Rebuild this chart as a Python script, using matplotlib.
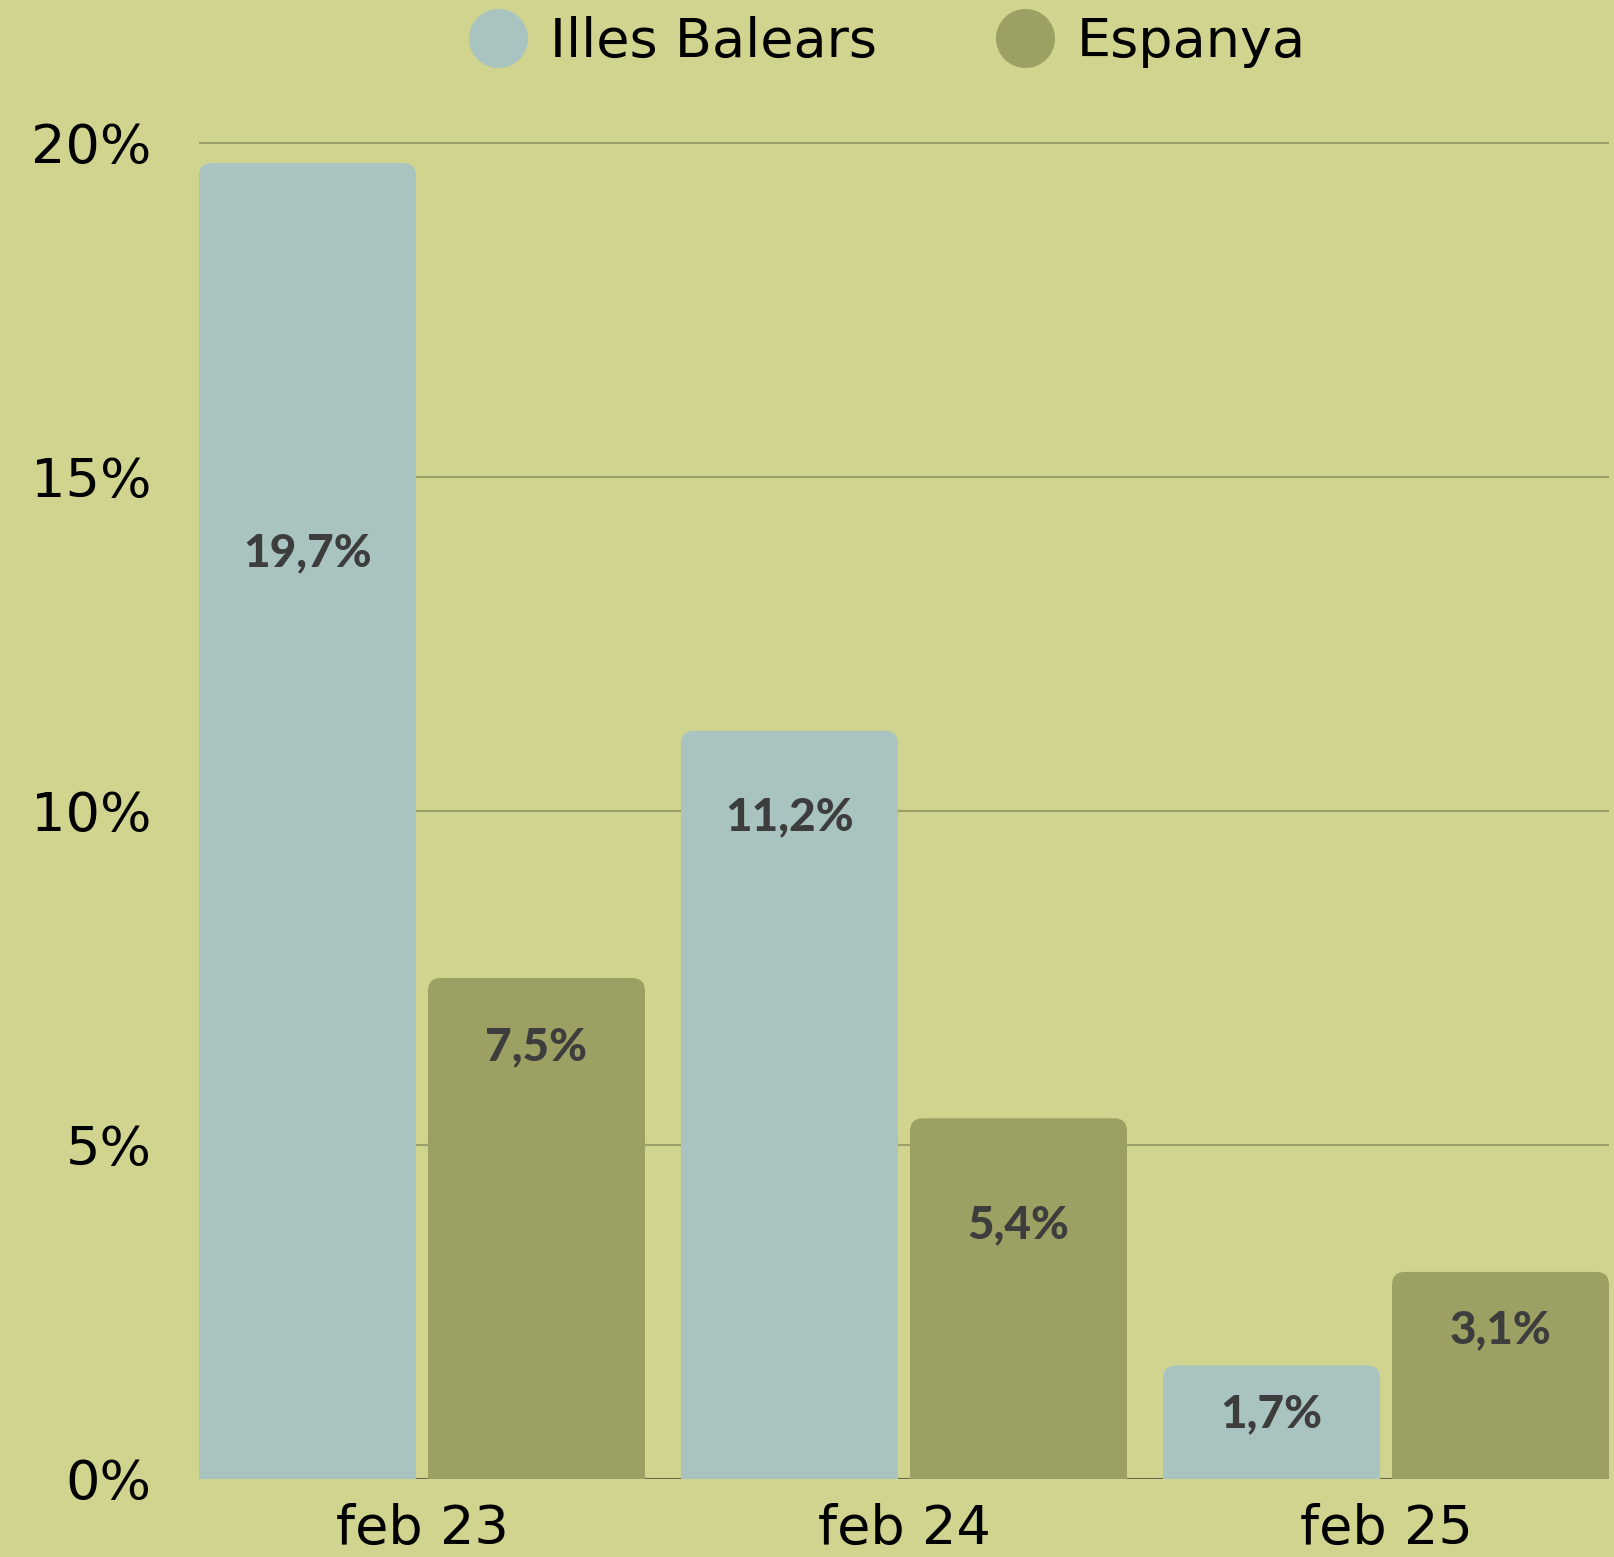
import numpy as np
import matplotlib.pyplot as plt
from matplotlib.patches import FancyBboxPatch
from matplotlib.lines import Line2D

# dades
mesos = ['feb 23', 'feb 24', 'feb 25']
balears = [19.7, 11.2, 1.7]
espanya = [7.5, 5.4, 3.1]
etiq_balears = ['19,7%', '11,2%', '1,7%']
etiq_espanya = ['7,5%', '5,4%', '3,1%']
yticks = [0, 5, 10, 15, 20]
ytick_labels = ['0%', '5%', '10%', '15%', '20%']

# distancia (en punts) de l'etiqueta respecte del cim de la barra
baix_balears = [281, 62, 35]
baix_espanya = [50, 77, 42]

fons = '#d1d48e'
c_bal = '#a9c4c0'
c_esp = '#9ca062'
c_text = '#3d3d3d'

fig = plt.figure(figsize=(16.14, 15.57), dpi=100, facecolor=fons)
ax = fig.add_axes([0.1233, 0.0501, 0.8736, 0.9010], facecolor=fons)

x = np.arange(len(mesos))
w = 0.45
gap = 0.025
b1 = ax.bar(x - (w + gap) / 2, balears, w, color=c_bal, zorder=3)
b2 = ax.bar(x + (w + gap) / 2, espanya, w, color=c_esp, zorder=3)

ax.set_xlim(-0.4625, 2.4625)
ax.set_ylim(0, 21)

# cantonades superiors arrodonides
rx = 0.027
ry = 0.195
for bars, col in ((b1, c_bal), (b2, c_esp)):
    for r in bars:
        bx, bw, bh = r.get_x(), r.get_width(), r.get_height()
        r.set_height(bh - ry)
        ax.add_patch(FancyBboxPatch((bx, 0), bw, bh,
                                    boxstyle='round,pad=0,rounding_size=%f' % rx,
                                    mutation_aspect=ry / rx, fc=col, ec='none', zorder=3))

for bars, labs, offs in ((b1, etiq_balears, baix_balears), (b2, etiq_espanya, baix_espanya)):
    for r, lab, off in zip(bars, labs, offs):
        ax.annotate(lab, (r.get_x() + r.get_width() / 2, r.get_height() + ry),
                    xytext=(0, -off), textcoords='offset points',
                    ha='center', va='center', fontsize=33, fontweight='black',
                    family=['Lato', 'DejaVu Sans'], color=c_text, zorder=4)

ax.set_yticks(yticks)
ax.set_yticklabels(ytick_labels)
ax.set_xticks(x)
ax.set_xticklabels(mesos)
ax.tick_params(axis='both', length=0, labelsize=39, colors='black')
ax.tick_params(axis='y', pad=34)
ax.tick_params(axis='x', pad=17.5)
ax.yaxis.grid(True, color='#9aa06a', lw=1.5, zorder=0)
ax.set_axisbelow(True)
ax.axhline(0, color='#6b6b4b', lw=1.5, zorder=1)
for s in ax.spines.values():
    s.set_visible(False)

handles = [Line2D([], [], marker='o', ls='none', markersize=41.5, color=c_bal, label='Illes Balears'),
           Line2D([], [], marker='o', ls='none', markersize=41.5, color=c_esp, label='Espanya')]
fig.legend(handles=handles, loc='center', bbox_to_anchor=(0.5505, 1 - 42 / 1557),
           ncol=2, frameon=False, fontsize=39, handlelength=1.0, handletextpad=0.45,
           columnspacing=2.25, borderpad=0, borderaxespad=0)

fig.savefig('out.png', dpi=100, facecolor=fons)
